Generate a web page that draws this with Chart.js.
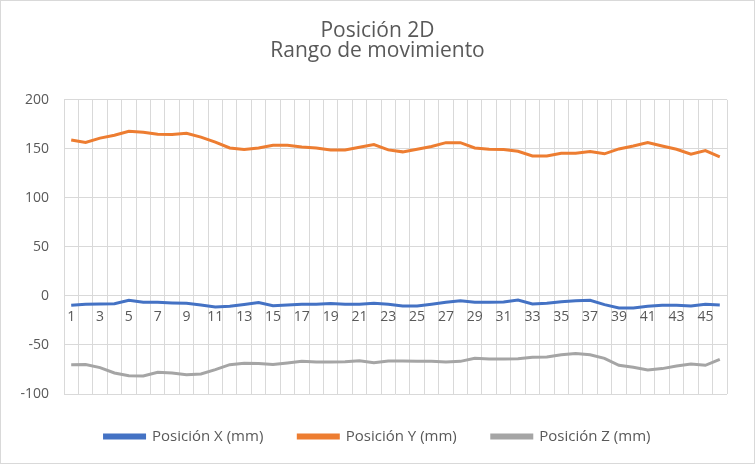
<!DOCTYPE html>
<html>
<head>
<meta charset="utf-8">
<script src="https://cdn.jsdelivr.net/npm/chart.js@4.4.1/dist/chart.umd.min.js"></script>
<style>
    html, body { margin: 0; padding: 0; background: #fff; }
    #contenedor {
        width: 755px;
        height: 464px;
        box-sizing: border-box;
        border: 1px solid #d9d9d9;
        position: relative;
    }
    #chartPosicion2D { display: block; }
</style>
</head>
<body>
<div id="contenedor">
    <canvas id="chartPosicion2D" width="753" height="462"></canvas>
</div>
<script>
const muestras = Array.from({ length: 46 }, (_, i) => String(i + 1));

const posicionX = [-9.5, -8.5, -8.2, -8, -4.4, -6.5, -6.5, -7.1, -7.5, -9.2,
    -11.2, -10.5, -8.8, -6.8, -9.9, -9.2, -8.5, -8.5, -7.8, -8.5,
    -8.5, -7.5, -8.5, -10.2, -10.2, -8.5, -6.5, -4.8, -6.5, -6.5,
    -6.1, -4.1, -8.2, -7.5, -5.8, -4.8, -4.4, -8.8, -12.2, -12.2,
    -10.5, -9.5, -9.5, -10.2, -8.5, -9.2];

const posicionY = [159, 156.5, 161, 164, 168, 167, 165, 164.6, 166, 162,
    157, 151, 149.3, 151, 153.7, 153.7, 152, 151, 149, 149,
    151.7, 154.4, 149, 147, 149.7, 152.4, 156.4, 156.4, 151, 149.7,
    149.3, 147.6, 142.9, 142.9, 145.6, 145.6, 147.3, 145, 150, 153,
    156.4, 153, 149.7, 144.6, 148.3, 142];

const posicionZ = [-70.1, -70, -73.1, -78.6, -81.3, -81.6, -77.9, -78.6, -80.3, -79.6,
    -75.2, -70.1, -68.7, -69, -70, -68.4, -66.7, -67.4, -67.4, -67,
    -66, -68, -66.3, -66.3, -66.7, -66.7, -67.4, -66.7, -63.6, -64.3,
    -64.3, -64, -62.6, -62.2, -59.9, -58.8, -59.9, -63.6, -70.7, -72.8,
    -75.5, -74.1, -71.4, -69.4, -70.7, -64.6];

const series = ['Posición X (mm)', 'Posición Y (mm)', 'Posición Z (mm)'];
const colores = ['#4472C4', '#ED7D31', '#A5A5A5']; // azul, naranja, gris

const colorTexto = '#595959';
const colorRejilla = '#d9d9d9';
const fuente = "'Open Sans', sans-serif";

// La leyenda ocupa todo el espacio bajo el área de trazado (como en Excel)
const altoLeyenda = {
    id: 'altoLeyenda',
    afterInit(chart) {
        const leyenda = chart.legend;
        if (!leyenda) return;
        const fitOriginal = leyenda.fit;
        leyenda.fit = function () {
            fitOriginal.call(this);
            this.height = 69;
        };
    }
};

function generarGraficaPosicion() {
    const ctx = document.getElementById('chartPosicion2D').getContext('2d');
    const valores = [posicionX, posicionY, posicionZ];

    window.graficaPosicion = new Chart(ctx, {
        type: 'line',
        data: {
            labels: muestras,
            datasets: series.map((nombre, i) => ({
                label: nombre,
                data: valores[i],
                borderColor: colores[i],
                backgroundColor: colores[i],
                borderWidth: 3,
                pointRadius: 0,
                tension: 0,
                fill: false
            }))
        },
        options: {
            responsive: false,
            animation: false,
            layout: {
                padding: 0
            },
            scales: {
                x: {
                    type: 'category',
                    offset: true,
                    position: { y: 0 },
                    grid: {
                        offset: true,
                        color: colorRejilla,
                        lineWidth: 1,
                        drawTicks: false
                    },
                    border: { color: colorRejilla },
                    ticks: {
                        autoSkip: false,
                        maxRotation: 0,
                        padding: 13,
                        color: colorTexto,
                        font: { family: fuente, size: 14 },
                        callback: function (value, index) {
                            return index % 2 === 0 ? this.getLabelForValue(value) : '';
                        }
                    }
                },
                y: {
                    min: -100,
                    max: 200,
                    ticks: {
                        stepSize: 50,
                        padding: 15,
                        color: colorTexto,
                        font: { family: fuente, size: 14 }
                    },
                    grid: {
                        color: colorRejilla,
                        lineWidth: 1,
                        drawTicks: false
                    },
                    border: { display: false },
                    afterFit: function (scale) {
                        scale.width = 63;
                    }
                },
                // eje vacío a la derecha, solo para dejar margen
                margenDerecho: {
                    type: 'linear',
                    position: 'right',
                    grid: { display: false, drawTicks: false },
                    border: { display: false },
                    ticks: { display: false },
                    afterFit: function (scale) {
                        scale.width = 27;
                    }
                }
            },
            plugins: {
                title: {
                    display: true,
                    text: ['Posición 2D', 'Rango de movimiento'],
                    color: colorTexto,
                    font: { family: fuente, size: 21, weight: 'normal', lineHeight: 0.95 },
                    padding: { top: 20, bottom: 39 }
                },
                legend: {
                    position: 'bottom',
                    labels: {
                        boxWidth: 40,
                        boxHeight: 3,
                        padding: 35,
                        color: colorTexto,
                        font: { family: fuente, size: 15 }
                    }
                },
                tooltip: { enabled: false }
            }
        },
        plugins: [altoLeyenda]
    });
}

generarGraficaPosicion();
</script>
</body>
</html>
